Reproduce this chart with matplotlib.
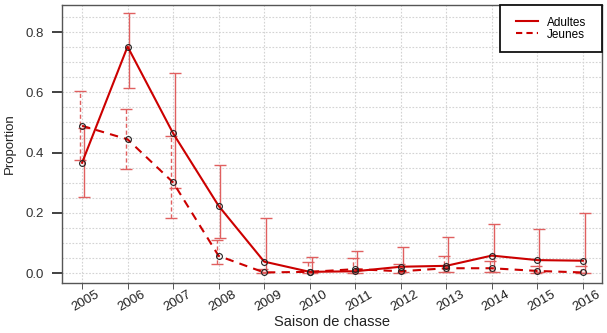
import matplotlib
matplotlib.use("Agg")
import matplotlib.pyplot as plt
import matplotlib.transforms as mtransforms
from matplotlib.lines import Line2D
from matplotlib.patches import Rectangle
import numpy as np

plt.rcParams['font.family'] = ['Liberation Sans', 'DejaVu Sans']

years = [2005, 2006, 2007, 2008, 2009, 2010, 2011, 2012, 2013, 2014, 2015, 2016]
adultes = [0.366, 0.752, 0.464, 0.223, 0.038, 0.004, 0.006, 0.021, 0.024, 0.058, 0.043, 0.041]
adultes_low = [0.253, 0.615, 0.281, 0.115, 0.003, 0.000, 0.000, 0.003, 0.003, 0.005, 0.002, 0.001]
adultes_high = [0.482, 0.862, 0.664, 0.359, 0.184, 0.054, 0.074, 0.087, 0.120, 0.163, 0.146, 0.198]
jeunes = [0.489, 0.444, 0.301, 0.057, 0.002, 0.004, 0.013, 0.006, 0.016, 0.016, 0.007, 0.002]
jeunes_low = [0.375, 0.344, 0.184, 0.029, 0.000, 0.000, 0.001, 0.000, 0.002, 0.002, 0.000, 0.000]
jeunes_high = [0.606, 0.545, 0.456, 0.111, 0.012, 0.038, 0.049, 0.030, 0.058, 0.040, 0.025, 0.023]
yticks = [0.0, 0.2, 0.4, 0.6, 0.8]
ytick_labels = ["0.0", "0.2", "0.4", "0.6", "0.8"]

fig = plt.figure(figsize=(6.07, 3.33), dpi=100)
ax = fig.add_axes([62/607, 1-283/333, 540/607, 278/333])

x = np.array(years, dtype=float)
a = np.array(adultes); al = np.array(adultes_low); ah = np.array(adultes_high)
j = np.array(jeunes); jl = np.array(jeunes_low); jh = np.array(jeunes_high)

line_red = '#CC0000'
bar_red = '#E06060'

# grid
for yy in np.arange(0, 0.851, 0.05):
    ax.axhline(yy, color='#D3D3D3', lw=0.8, ls=(0, (1.5, 1.5)), zorder=0)
for xx in years:
    ax.axvline(xx, color='#D3D3D3', lw=0.8, ls=(0, (1.5, 1.5)), zorder=0)

off = 0.04
eb1 = ax.errorbar(x + off, a, yerr=[a - al, ah - a], fmt='none', ecolor=bar_red,
                  elinewidth=1.0, capsize=4, capthick=1.0, zorder=2)
eb2 = ax.errorbar(x - off, j, yerr=[j - jl, jh - j], fmt='none', ecolor=bar_red,
                  elinewidth=1.0, capsize=4, capthick=1.0, zorder=2)
for lc in eb2[2]:
    lc.set_linestyle((0, (3, 2)))

ax.plot(x, a, color=line_red, lw=1.5, ls='-', zorder=3)
ax.plot(x, j, color=line_red, lw=1.5, ls=(0, (4, 3)), zorder=3)
ax.plot(x, a, ls='none', marker='o', ms=4.2, mfc='none', mec='#222222', mew=0.8, zorder=4)
ax.plot(x, j, ls='none', marker='o', ms=4.2, mfc='none', mec='#222222', mew=0.8, zorder=4)

ax.set_xlim(2004.56, 2016.42)
ax.set_ylim(-0.033, 0.89)
ax.set_yticks(yticks)
ax.set_yticklabels(ytick_labels, fontsize=9.5, color='#333333')
ax.set_xticks(years)
ax.set_xticklabels([str(y) for y in years], rotation=30, fontsize=9.5, color='#222222')
ax.tick_params(axis='y', length=7, width=1.3, color='#333333', pad=6)
ax.tick_params(axis='x', length=4, width=0.7, color='#555555', pad=0)
shift = mtransforms.ScaledTranslation(4/100, 0, fig.dpi_scale_trans)
for lab in ax.get_xticklabels():
    lab.set_transform(lab.get_transform() + shift)
for s in ax.spines.values():
    s.set_color('#555555')
    s.set_linewidth(1.0)

ax.set_xlabel('Saison de chasse', fontsize=10.5, color='#222222', labelpad=1)
ax.set_ylabel('Proportion', fontsize=9.5, color='#222222', labelpad=7)

# legend box
rect = Rectangle((500/607, 1-52/333), 102/607, 47/333, transform=fig.transFigure,
                 facecolor='white', edgecolor='#111111', lw=1.3, zorder=5)
fig.patches.append(rect)
handles = [Line2D([0], [0], color=line_red, lw=1.5, ls='-'),
           Line2D([0], [0], color=line_red, lw=1.5, ls=(0, (3, 2)))]
leg = fig.legend(handles, ['Adultes', 'Jeunes'], loc='center',
                 bbox_to_anchor=(551/607, 1-28.5/333), fontsize=8.5,
                 frameon=False, handlelength=1.9, labelspacing=0.0,
                 borderpad=0, handletextpad=0.7)
leg.set_zorder(6)

fig.savefig('out.png', dpi=100)
